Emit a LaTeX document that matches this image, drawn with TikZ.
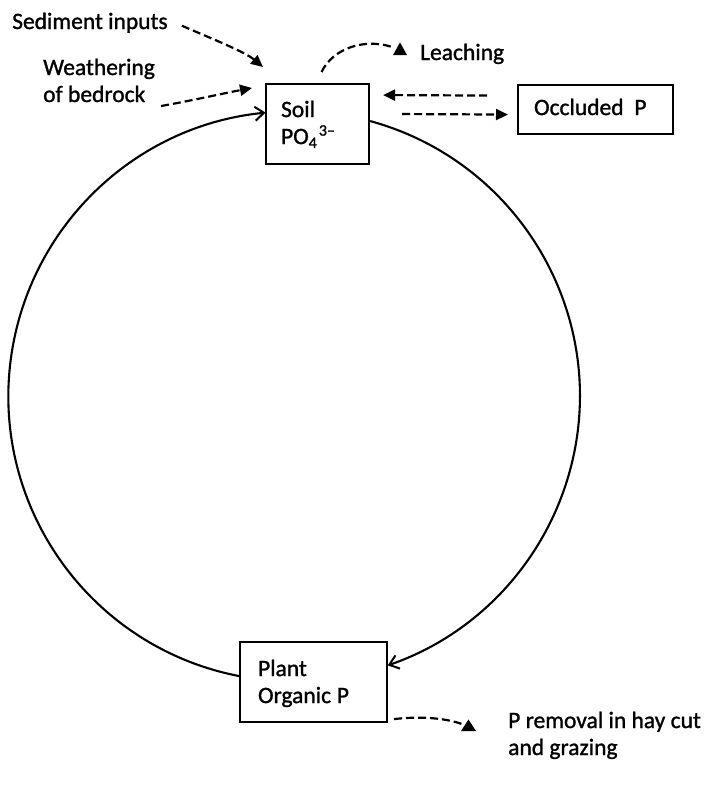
\documentclass[tikz,border=0pt]{standalone}
\usepackage{fontspec}
\setmainfont{Carlito}[FakeBold=1.2]
\usetikzlibrary{arrows.meta,calc}
\newcommand{\subsup}{PO\raisebox{-0.35ex}{\fontsize{16}{16}\selectfont 4}\kern2pt\raisebox{0.75ex}{\fontsize{16}{16}\selectfont 3–}}
\begin{document}
\begin{tikzpicture}[x=1pt,y=-1pt,
  every node/.style={font=\fontsize{23.5}{27}\selectfont},
  box/.style={draw,line width=2.1pt,rectangle,inner sep=0pt,align=left,anchor=north west},
  lab/.style={anchor=base west,inner sep=0pt,align=left},
  flow/.style={line width=2.1pt,-{Straight Barb[length=9pt,width=14pt,line width=2pt]}},
  dline/.style={line width=2.2pt,dash pattern=on 8pt off 4pt},
  dflow/.style={dline,-{Triangle[length=12pt,width=11pt]}},
  tri/.style={fill=black}]
\useasboundingbox (0,0) rectangle (712,787);
% boxes
\node[box,minimum width=103pt,text width=73pt,text height=33pt,text depth=47pt] (soil) at (265,83)
  {\fontsize{23.5}{28}\selectfont Soil\\\subsup};
\node[box,minimum width=155pt,text width=123pt,text height=30pt,text depth=19pt] (occ) at (517,84)
  {Occluded\kern3pt\ P};
\node[box,minimum width=147pt,text width=111pt,text height=34pt,text depth=46pt] (plant) at (239,641)
  {\fontsize{23.5}{31}\selectfont Plant\\Organic\kern-2pt\ P};
% labels
\node[lab] (sed) at (12,29) {Sediment inputs};
\node[lab] (wea) at (43,102) {Weathering\\of bedrock};
\node[lab] (lea) at (420,60) {Leaching};
\node[lab] (rem) at (508,755) {P removal in hay cut\\and grazing};
% cycle arcs
\draw[flow] ($(plant.west)+(0,-6)$) arc[start angle=101, end angle=264.4, radius=285];
\draw[flow] ($(soil.east)+(0,-3)$) arc[start angle=-74.7, end angle=71, radius=285];
% inputs
\coordinate (s1) at ($(sed.east)+(14,3)$);
\coordinate (s2) at ($(soil.north west)+(-2,-16)$);
\draw[dflow] (s1) .. controls (215,40) and (245,52) .. (s2);
\coordinate (w1) at ($(wea.base east)+(6,4)$);
\coordinate (w2) at ($(soil.north west)+(-13,5)$);
\draw[dflow] (w1) .. controls (190,101) and (225,93) .. (w2);
% leaching
\coordinate (l1) at ($(soil.north)+(4,-11)$);
\coordinate (l2) at (392,47);
\draw[dline] (l1) .. controls (333,48) and (365,38) .. (l2);
\fill[tri] (393,55) -- (407,55) -- (400,42.5) -- cycle;
% occluded exchange
\coordinate (o1) at ($(occ.west)+(-30,-14)$);
\coordinate (o2) at ($(soil.east)+(13,-29)$);
\draw[dflow] (o1) -- (o2);
\coordinate (o3) at ($(soil.east)+(32,-10)$);
\coordinate (o4) at ($(occ.west)+(-9,5)$);
\draw[dflow] (o3) -- (o4);
% removal
\coordinate (r1) at ($(plant.south east)+(6,-4)$);
\coordinate (r2) at (462,724);
\draw[dline] (r1) .. controls (420,716) and (445,718) .. (r2);
\fill[tri] (461,731) -- (476,731) -- (468.5,719.5) -- cycle;
\end{tikzpicture}
\end{document}
